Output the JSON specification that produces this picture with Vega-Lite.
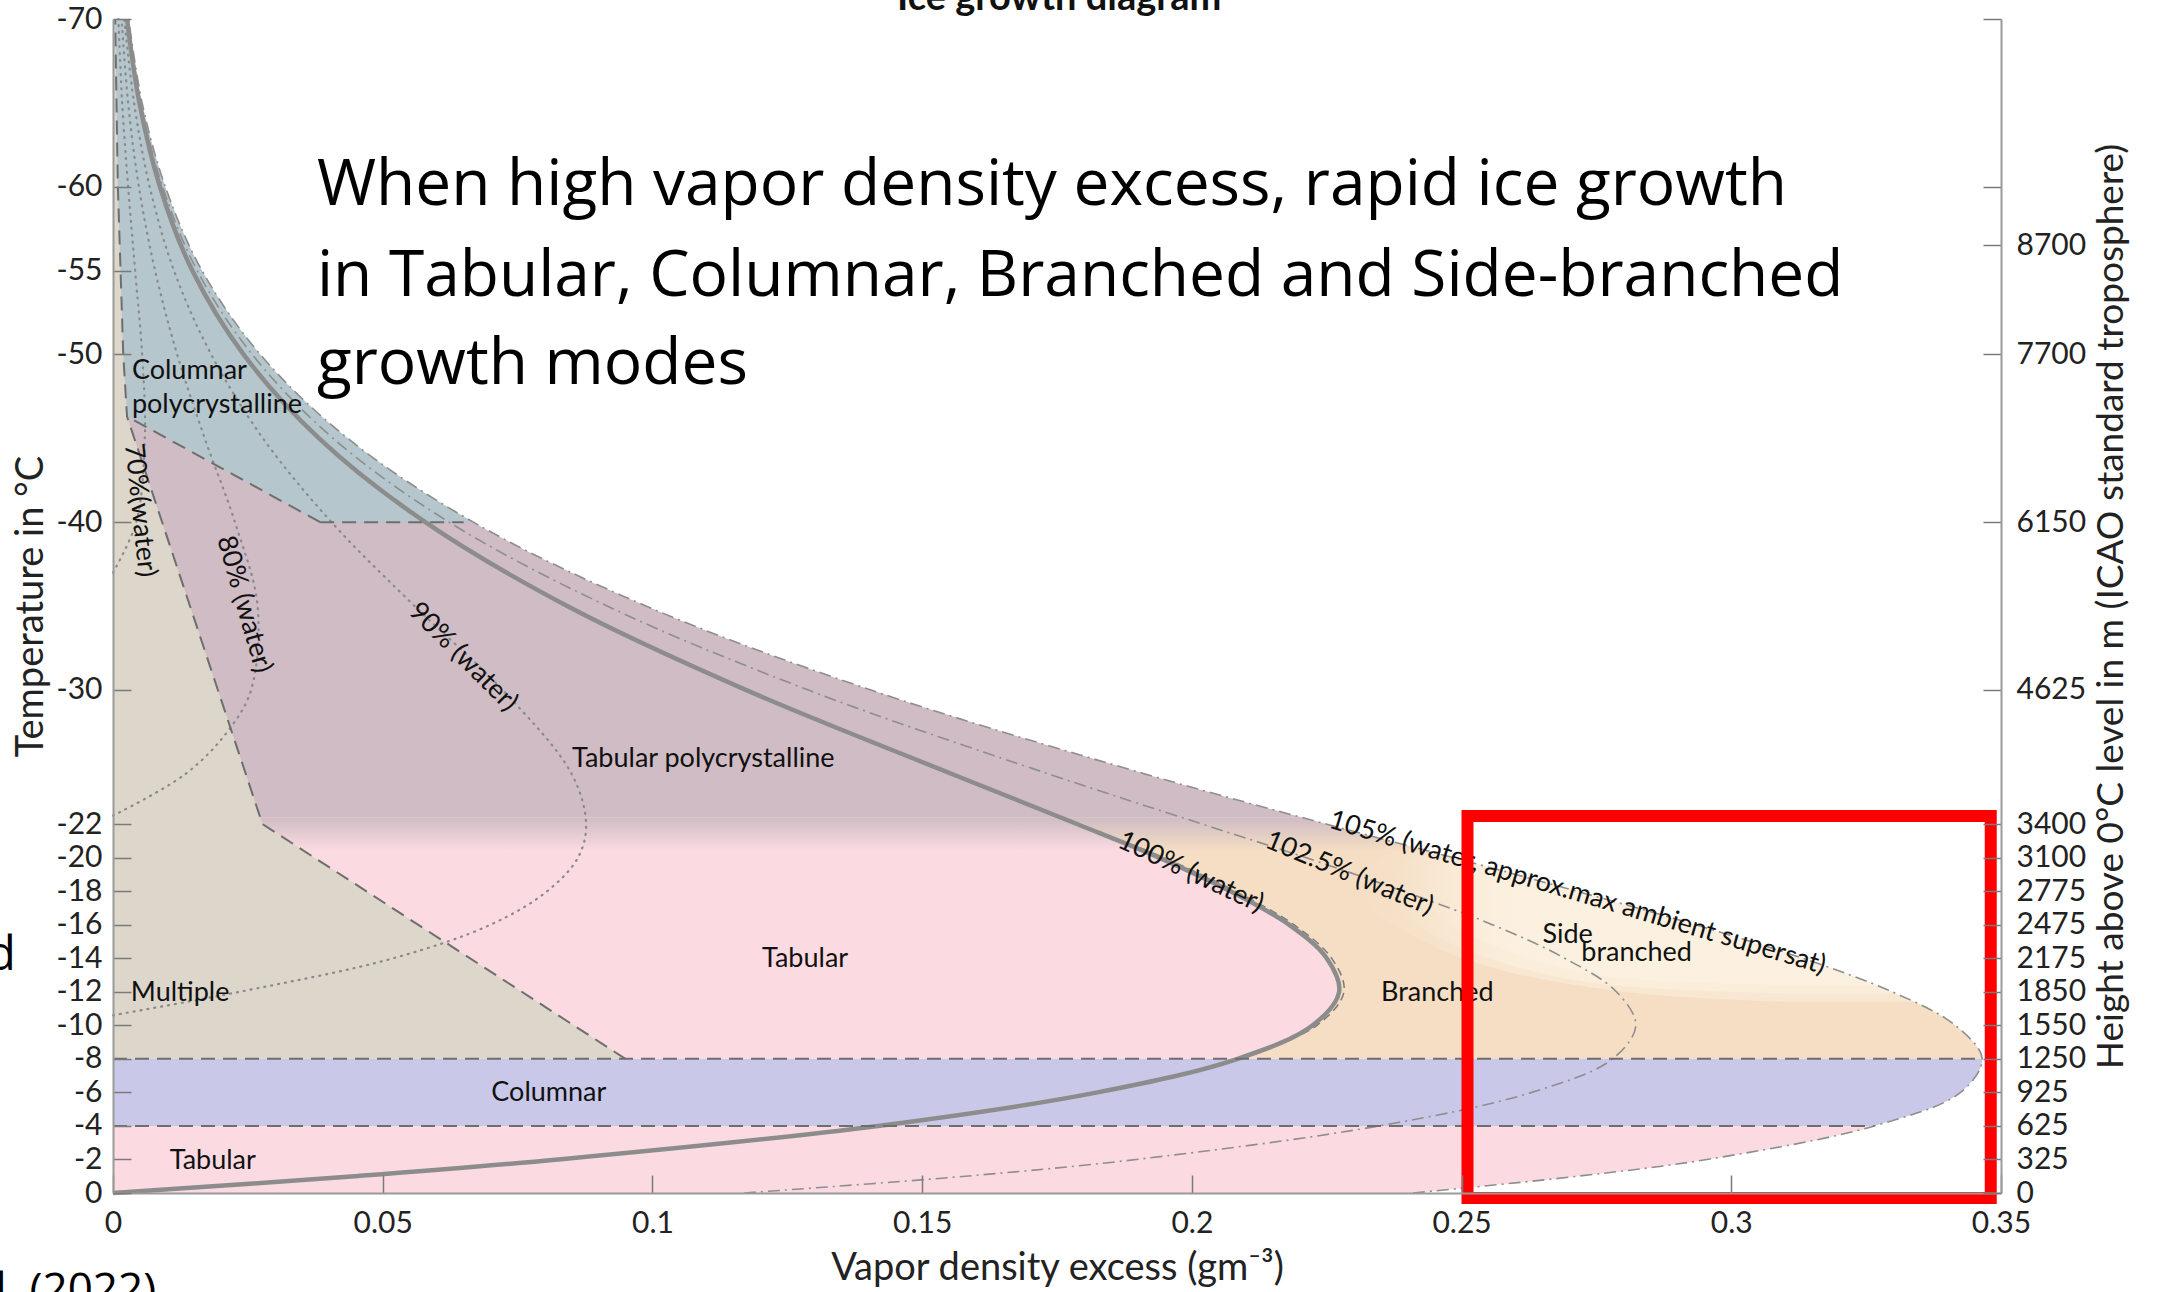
{
 "$schema": "https://vega.github.io/schema/vega-lite/v6.json",
 "width": 1888,
 "height": 1174,
 "autosize": {"type": "none"},
 "padding": {"left": 113, "top": 19, "right": 160, "bottom": 99},
 "background": "#ffffff",
 "config": {"view": {"stroke": null}, "font": "Lato"},
 "datasets": {
  "bands": [
   {"region": "Tabular polycrystalline", "x": 0, "x2": 0.35, "T": -70, "T2": -22.4},
   {"region": "Branched", "x": 0, "x2": 0.35, "T": -22.4, "T2": -8},
   {"region": "Columnar", "x": 0, "x2": 0.35, "T": -8, "T2": -4},
   {"region": "Tabular", "x": 0, "x2": 0.35, "T": -4, "T2": 0}
  ],
  "tab": [
   {"T": -8, "x": 0, "x2": 0.2085}, {"T": -10, "x": 0, "x2": 0.2224}, {"T": -12, "x": 0, "x2": 0.2273},
   {"T": -14, "x": 0, "x2": 0.2250}, {"T": -16, "x": 0, "x2": 0.2180}, {"T": -18, "x": 0, "x2": 0.2071},
   {"T": -20, "x": 0, "x2": 0.1939}, {"T": -22, "x": 0, "x2": 0.1787}, {"T": -22.4, "x": 0, "x2": 0.1756}
  ],
  "cream1": [
   {"T": -11.4, "x": 0.31, "x2": 0.35}, {"T": -12.0, "x": 0.28, "x2": 0.35}, {"T": -13.5, "x": 0.255, "x2": 0.35},
   {"T": -15.5, "x": 0.24, "x2": 0.35}, {"T": -17.5, "x": 0.232, "x2": 0.35}, {"T": -19.5, "x": 0.233, "x2": 0.35},
   {"T": -21, "x": 0.245, "x2": 0.35}
  ],
  "cream2": [
   {"T": -11.9, "x": 0.31, "x2": 0.35}, {"T": -12.5, "x": 0.275, "x2": 0.35}, {"T": -14, "x": 0.255, "x2": 0.35},
   {"T": -16, "x": 0.242, "x2": 0.35}, {"T": -18, "x": 0.237, "x2": 0.35}, {"T": -19.8, "x": 0.24, "x2": 0.35},
   {"T": -20.6, "x": 0.25, "x2": 0.35}
  ],
  "cream3": [
   {"T": -12.4, "x": 0.31, "x2": 0.35}, {"T": -13, "x": 0.275, "x2": 0.35}, {"T": -14.5, "x": 0.258, "x2": 0.35},
   {"T": -16.5, "x": 0.246, "x2": 0.35}, {"T": -18.5, "x": 0.242, "x2": 0.35}, {"T": -20, "x": 0.246, "x2": 0.35}
  ],
  "blue": [
   {"T": -70, "x": 0.0004, "x2": 0.35}, {"T": -60, "x": 0.0009, "x2": 0.35}, {"T": -50, "x": 0.0019, "x2": 0.35},
   {"T": -46.3, "x": 0.0026, "x2": 0.35}, {"T": -40, "x": 0.0384, "x2": 0.35}
  ],
  "tan": [
   {"T": -70, "x": 0, "x2": 0.0004}, {"T": -60, "x": 0, "x2": 0.0009}, {"T": -50, "x": 0, "x2": 0.0019},
   {"T": -46.3, "x": 0, "x2": 0.0026}, {"T": -22, "x": 0, "x2": 0.0277}, {"T": -8, "x": 0, "x2": 0.095}
  ],
  "mask": [
   {"T": 0, "x": 0.241, "x2": 0.35}, {"T": -1, "x": 0.2715, "x2": 0.35}, {"T": -2, "x": 0.2955, "x2": 0.35},
   {"T": -4, "x": 0.3265, "x2": 0.35}, {"T": -6, "x": 0.3425, "x2": 0.35}, {"T": -8, "x": 0.3465, "x2": 0.35},
   {"T": -10, "x": 0.3415, "x2": 0.35}, {"T": -12, "x": 0.3298, "x2": 0.35}, {"T": -14, "x": 0.3132, "x2": 0.35},
   {"T": -16, "x": 0.2933, "x2": 0.35}, {"T": -18, "x": 0.2713, "x2": 0.35}, {"T": -20, "x": 0.2484, "x2": 0.35},
   {"T": -22, "x": 0.2249, "x2": 0.35}, {"T": -25, "x": 0.1912, "x2": 0.35}, {"T": -30, "x": 0.1404, "x2": 0.35},
   {"T": -35, "x": 0.0988, "x2": 0.35}, {"T": -40, "x": 0.0668, "x2": 0.35}, {"T": -45, "x": 0.0435, "x2": 0.35},
   {"T": -50, "x": 0.0273, "x2": 0.35}, {"T": -55, "x": 0.0165, "x2": 0.35}, {"T": -60, "x": 0.0097, "x2": 0.35},
   {"T": -65, "x": 0.0054, "x2": 0.35}, {"T": -70, "x": 0.0029, "x2": 0.35}
  ],
  "c105": [
   {"T": 0, "x": 0.241}, {"T": -1, "x": 0.2715}, {"T": -2, "x": 0.2955}, {"T": -4, "x": 0.3265}, {"T": -6, "x": 0.3425},
   {"T": -8, "x": 0.3465}, {"T": -10, "x": 0.3415}, {"T": -12, "x": 0.3298}, {"T": -14, "x": 0.3132}, {"T": -16, "x": 0.2933},
   {"T": -18, "x": 0.2713}, {"T": -20, "x": 0.2484}, {"T": -22, "x": 0.2249}, {"T": -25, "x": 0.1912}, {"T": -30, "x": 0.1404},
   {"T": -35, "x": 0.0988}, {"T": -40, "x": 0.0668}, {"T": -45, "x": 0.0435}, {"T": -50, "x": 0.0273}, {"T": -55, "x": 0.0165},
   {"T": -60, "x": 0.0097}, {"T": -65, "x": 0.0054}, {"T": -70, "x": 0.0029}
  ],
  "c1025": [
   {"T": 0, "x": 0.117}, {"T": -1, "x": 0.158}, {"T": -2, "x": 0.1897}, {"T": -4, "x": 0.2347}, {"T": -6, "x": 0.2630},
   {"T": -8, "x": 0.2780}, {"T": -10, "x": 0.2823}, {"T": -12, "x": 0.2787}, {"T": -14, "x": 0.2691}, {"T": -16, "x": 0.2557},
   {"T": -18, "x": 0.2391}, {"T": -20, "x": 0.2211}, {"T": -22, "x": 0.2019}, {"T": -25, "x": 0.1733}, {"T": -30, "x": 0.1288},
   {"T": -35, "x": 0.0916}, {"T": -40, "x": 0.0623}, {"T": -45, "x": 0.0408}, {"T": -50, "x": 0.0258}, {"T": -55, "x": 0.0156},
   {"T": -60, "x": 0.0092}, {"T": -65, "x": 0.0051}, {"T": -70, "x": 0.0028}
  ],
  "c100": [
   {"T": 0, "x": 0}, {"T": -1, "x": 0.0448}, {"T": -2, "x": 0.0826}, {"T": -4, "x": 0.1418}, {"T": -6, "x": 0.1825},
   {"T": -8, "x": 0.2085}, {"T": -10, "x": 0.2224}, {"T": -12, "x": 0.2273}, {"T": -14, "x": 0.2250}, {"T": -16, "x": 0.2180},
   {"T": -18, "x": 0.2071}, {"T": -20, "x": 0.1939}, {"T": -22, "x": 0.1787}, {"T": -25, "x": 0.1554}, {"T": -30, "x": 0.1173},
   {"T": -35, "x": 0.0842}, {"T": -40, "x": 0.0579}, {"T": -45, "x": 0.0382}, {"T": -50, "x": 0.0242}, {"T": -55, "x": 0.0147},
   {"T": -60, "x": 0.0087}, {"T": -65, "x": 0.0049}, {"T": -70, "x": 0.0026}
  ],
  "c100d": [
   {"T": -8, "x": 0.2093}, {"T": -10, "x": 0.2232}, {"T": -12, "x": 0.2282}, {"T": -14, "x": 0.2259},
   {"T": -16, "x": 0.2189}, {"T": -18, "x": 0.2080}, {"T": -20, "x": 0.1948}, {"T": -21, "x": 0.1870}
  ],
  "c90": [
   {"T": -10.6, "x": 0}, {"T": -12, "x": 0.0235}, {"T": -14, "x": 0.052}, {"T": -16, "x": 0.070}, {"T": -18, "x": 0.0805},
   {"T": -20, "x": 0.0862}, {"T": -22, "x": 0.0877}, {"T": -25, "x": 0.0850}, {"T": -30, "x": 0.0722}, {"T": -35, "x": 0.0559},
   {"T": -40, "x": 0.0405}, {"T": -45, "x": 0.0278}, {"T": -50, "x": 0.0182}, {"T": -55, "x": 0.0113}, {"T": -60, "x": 0.0068},
   {"T": -65, "x": 0.0039}, {"T": -70, "x": 0.0021}
  ],
  "c80": [
   {"T": -22.5, "x": 0}, {"T": -25, "x": 0.0135}, {"T": -27.5, "x": 0.0212}, {"T": -30, "x": 0.0256}, {"T": -35, "x": 0.0268},
   {"T": -40, "x": 0.0226}, {"T": -45, "x": 0.0170}, {"T": -50, "x": 0.0119}, {"T": -55, "x": 0.0078}, {"T": -60, "x": 0.0048},
   {"T": -65, "x": 0.0028}, {"T": -70, "x": 0.0016}
  ],
  "c70": [
   {"T": -37, "x": 0}, {"T": -40, "x": 0.0043}, {"T": -45, "x": 0.0059}, {"T": -50, "x": 0.0054}, {"T": -55, "x": 0.0041},
   {"T": -60, "x": 0.0028}, {"T": -65, "x": 0.0017}, {"T": -70, "x": 0.0010}
  ],
  "bnd": [
   {"T": -8, "x": 0.095}, {"T": -22, "x": 0.0277}, {"T": -46.3, "x": 0.0026}, {"T": -50, "x": 0.0019},
   {"T": -60, "x": 0.0009}, {"T": -70, "x": 0.0004}
  ],
  "diag": [
   {"T": -40, "x": 0.0384}, {"T": -46.3, "x": 0.0026}
  ],
  "hrules": [
   {"T": -8, "x": 0, "x2": 0.3465}, {"T": -4, "x": 0, "x2": 0.3265}, {"T": -40, "x": 0.0384, "x2": 0.065}
  ]
 },
 "encoding": {
  "x": {
   "field": "x", "type": "quantitative",
   "scale": {"domain": [0, 0.35], "nice": false, "zero": false},
   "axis": {
    "values": [0, 0.05, 0.1, 0.15, 0.2, 0.25, 0.3, 0.35],
    "labelExpr": "'' + datum.value",
    "title": "Vapor density excess (gm⁻³)",
    "grid": false, "tickSize": -18, "tickColor": "#7a7a7a", "tickWidth": 1.5,
    "domainColor": "#9a9a9a", "domainWidth": 2,
    "labelFont": "Lato", "labelFontSize": 30, "labelColor": "#222222", "labelPadding": 33,
    "labelFlush": false, "labelOverlap": false, "labelBound": false,
    "titleFont": "Lato", "titleFontSize": 38, "titleFontWeight": "normal", "titleColor": "#222222", "titlePadding": 11,
    "zindex": 1
   }
  },
  "y": {
   "field": "T", "type": "quantitative",
   "scale": {"domain": [-70, 0], "reverse": true, "nice": false, "zero": false},
   "axis": null
  }
 },
 "layer": [
  {
   "data": {"name": "bands"},
   "mark": {"type": "rect"},
   "encoding": {
    "x2": {"field": "x2"}, "y2": {"field": "T2"},
    "color": {"field": "region", "type": "nominal", "legend": null,
     "scale": {"domain": ["Tabular polycrystalline", "Branched", "Columnar", "Tabular"], "range": ["#cfbcc4", "#f5dec4", "#c9c8e8", "#fbdbe1"]}}
   }
  },
  {
   "data": {"name": "tab"},
   "mark": {"type": "area", "orient": "horizontal", "interpolate": "catmull-rom", "color": "#fbdbe1"},
   "encoding": {"x2": {"field": "x2"}}
  },
  {
   "data": {"name": "cream1"},
   "mark": {"type": "area", "orient": "horizontal", "interpolate": "catmull-rom",
    "color": {"gradient": "linear", "x1": 0, "y1": 0, "x2": 1, "y2": 0,
     "stops": [{"offset": 0, "color": "rgba(252,243,227,0)"}, {"offset": 0.22, "color": "rgba(252,243,227,0.45)"}, {"offset": 1, "color": "rgba(252,243,227,0.45)"}]}},
   "encoding": {"x2": {"field": "x2"}}
  },
  {
   "data": {"name": "cream2"},
   "mark": {"type": "area", "orient": "horizontal", "interpolate": "catmull-rom",
    "color": {"gradient": "linear", "x1": 0, "y1": 0, "x2": 1, "y2": 0,
     "stops": [{"offset": 0, "color": "rgba(252,243,227,0)"}, {"offset": 0.2, "color": "rgba(252,243,227,0.5)"}, {"offset": 1, "color": "rgba(252,243,227,0.5)"}]}},
   "encoding": {"x2": {"field": "x2"}}
  },
  {
   "data": {"name": "cream3"},
   "mark": {"type": "area", "orient": "horizontal", "interpolate": "catmull-rom",
    "color": {"gradient": "linear", "x1": 0, "y1": 0, "x2": 1, "y2": 0,
     "stops": [{"offset": 0, "color": "rgba(252,243,227,0)"}, {"offset": 0.2, "color": "rgba(252,243,227,0.6)"}, {"offset": 1, "color": "rgba(252,243,227,0.6)"}]}},
   "encoding": {"x2": {"field": "x2"}}
  },
  {
   "data": {"values": [{"x": 0, "x2": 0.35, "T": -22.4, "T2": -20.4}]},
   "mark": {"type": "rect",
    "color": {"gradient": "linear", "x1": 0, "y1": 0, "x2": 0, "y2": 1,
     "stops": [{"offset": 0, "color": "rgba(207,188,196,1)"}, {"offset": 1, "color": "rgba(207,188,196,0)"}]}},
   "encoding": {"x2": {"field": "x2"}, "y2": {"field": "T2"}}
  },
  {
   "data": {"name": "blue"},
   "mark": {"type": "area", "orient": "horizontal", "interpolate": "linear", "color": "#b5c6cc"},
   "encoding": {"x2": {"field": "x2"}}
  },
  {
   "data": {"name": "tan"},
   "mark": {"type": "area", "orient": "horizontal", "interpolate": "linear", "color": "#ddd6cb"},
   "encoding": {"x2": {"field": "x2"}}
  },
  {
   "data": {"name": "mask"},
   "mark": {"type": "area", "orient": "horizontal", "interpolate": "catmull-rom", "color": "#ffffff"},
   "encoding": {
    "x2": {"field": "x2"},
    "y": {
     "field": "T", "type": "quantitative",
     "scale": {"domain": [-70, 0], "reverse": true, "nice": false, "zero": false},
     "axis": {
      "orient": "left",
      "values": [-70, -60, -55, -50, -40, -30, -22, -20, -18, -16, -14, -12, -10, -8, -6, -4, -2, 0],
      "labelExpr": "'' + datum.value",
      "title": "Temperature in °C",
      "grid": false, "tickSize": -18, "tickColor": "#7a7a7a", "tickWidth": 1.5,
      "domainColor": "#9a9a9a", "domainWidth": 2,
      "labelFont": "Lato", "labelFontSize": 30, "labelColor": "#222222", "labelPadding": 29,
      "labelOverlap": false, "labelBound": false, "labelFlush": false,
      "titleFont": "Lato", "titleFontSize": 38, "titleFontWeight": "normal", "titleColor": "#222222", "titlePadding": 6,
      "zindex": 1
     }
    }
   }
  },
  {
   "data": {"name": "c70"},
   "mark": {"type": "line", "interpolate": "catmull-rom", "color": "#8a8a8a", "strokeWidth": 2.2, "strokeDash": [1, 6], "strokeCap": "round"},
   "encoding": {"order": {"field": "T", "type": "quantitative", "sort": "descending"}}
  },
  {
   "data": {"name": "c80"},
   "mark": {"type": "line", "interpolate": "catmull-rom", "color": "#8a8a8a", "strokeWidth": 2.2, "strokeDash": [1, 6], "strokeCap": "round"},
   "encoding": {"order": {"field": "T", "type": "quantitative", "sort": "descending"}}
  },
  {
   "data": {"name": "c90"},
   "mark": {"type": "line", "interpolate": "catmull-rom", "color": "#8a8a8a", "strokeWidth": 2.2, "strokeDash": [1, 6], "strokeCap": "round"},
   "encoding": {"order": {"field": "T", "type": "quantitative", "sort": "descending"}}
  },
  {
   "data": {"name": "c1025"},
   "mark": {"type": "line", "interpolate": "catmull-rom", "color": "#8e8e8e", "strokeWidth": 1.6, "strokeDash": [12, 5, 2, 5]},
   "encoding": {"order": {"field": "T", "type": "quantitative", "sort": "descending"}}
  },
  {
   "data": {"name": "c105"},
   "mark": {"type": "line", "interpolate": "catmull-rom", "color": "#8e8e8e", "strokeWidth": 1.6, "strokeDash": [12, 5, 2, 5]},
   "encoding": {"order": {"field": "T", "type": "quantitative", "sort": "descending"}}
  },
  {
   "data": {"name": "c100d"},
   "mark": {"type": "line", "interpolate": "catmull-rom", "color": "#7a7a7a", "strokeWidth": 1.5, "strokeDash": [8, 5]},
   "encoding": {"order": {"field": "T", "type": "quantitative", "sort": "descending"}}
  },
  {
   "data": {"name": "c100"},
   "mark": {"type": "line", "interpolate": "catmull-rom", "color": "#8c8c8c", "strokeWidth": 4.5},
   "encoding": {
    "order": {"field": "T", "type": "quantitative", "sort": "descending"},
    "y": {
     "field": "T", "type": "quantitative",
     "scale": {"domain": [-70, 0], "reverse": true, "nice": false, "zero": false},
     "axis": {
      "orient": "right",
      "values": [-70, -60, -56.5, -50, -40, -30, -22, -20, -18, -16, -14, -12, -10, -8, -6, -4, -2, 0],
      "labelExpr": "datum.value < -57 ? '' : ['8700','7700','6150','4625','3400','3100','2775','2475','2175','1850','1550','1250','925','625','325','0'][indexof([-56.5,-50,-40,-30,-22,-20,-18,-16,-14,-12,-10,-8,-6,-4,-2,0], datum.value)]",
      "title": "Height above 0°C level in m (ICAO standard troposphere)",
      "titleAngle": 270, "titleBaseline": "top",
      "grid": false, "tickSize": -18, "tickColor": "#7a7a7a", "tickWidth": 1.5,
      "domainColor": "#9a9a9a", "domainWidth": 2,
      "labelFont": "Lato", "labelFontSize": 30, "labelColor": "#222222", "labelPadding": 33,
      "labelOverlap": false, "labelBound": false, "labelFlush": false,
      "titleFont": "Lato", "titleFontSize": 37, "titleFontWeight": "normal", "titleColor": "#222222", "titlePadding": 8,
      "zindex": 1
     }
    }
   }
  },
  {
   "data": {"name": "bnd"},
   "mark": {"type": "line", "interpolate": "linear", "color": "#6e6e6e", "strokeWidth": 2, "strokeDash": [14, 8]},
   "encoding": {"order": {"field": "T", "type": "quantitative", "sort": "descending"}}
  },
  {
   "data": {"name": "diag"},
   "mark": {"type": "line", "interpolate": "linear", "color": "#6e6e6e", "strokeWidth": 2, "strokeDash": [14, 8]},
   "encoding": {"order": {"field": "T", "type": "quantitative", "sort": "descending"}}
  },
  {
   "data": {"name": "hrules"},
   "mark": {"type": "rule", "color": "#6e6e6e", "strokeWidth": 2, "strokeDash": [14, 8]},
   "encoding": {"x2": {"field": "x2"}}
  },
  {
   "data": {"values": [
    {"label": "Columnar", "x": 0.0035, "T": -49.0},
    {"label": "polycrystalline", "x": 0.0035, "T": -47.0},
    {"label": "Multiple", "x": 0.0033, "T": -11.95},
    {"label": "Tabular polycrystalline", "x": 0.0851, "T": -25.9},
    {"label": "Side", "x": 0.265, "T": -15.4},
    {"label": "branched", "x": 0.2722, "T": -14.3}
   ]},
   "mark": {"type": "text", "font": "Lato", "fontSize": 27, "color": "#111111", "align": "left", "baseline": "middle"},
   "encoding": {"text": {"field": "label"}}
  },
  {
   "data": {"values": [
    {"label": "Tabular", "x": 0.1283, "T": -13.95},
    {"label": "Columnar", "x": 0.0808, "T": -5.96},
    {"label": "Tabular", "x": 0.0185, "T": -1.9},
    {"label": "Branched", "x": 0.2455, "T": -11.9}
   ]},
   "mark": {"type": "text", "font": "Lato", "fontSize": 27, "color": "#111111", "align": "center", "baseline": "middle"},
   "encoding": {"text": {"field": "label"}}
  },
  {
   "data": {"values": [{"label": "70%(water)", "x": 0.005, "T": -40.7}]},
   "mark": {"type": "text", "font": "Lato", "fontSize": 27, "color": "#111111", "align": "center", "baseline": "middle", "angle": 84},
   "encoding": {"text": {"field": "label"}}
  },
  {
   "data": {"values": [{"label": "80% (water)", "x": 0.0243, "T": -35.1}]},
   "mark": {"type": "text", "font": "Lato", "fontSize": 27, "color": "#111111", "align": "center", "baseline": "middle", "angle": 74},
   "encoding": {"text": {"field": "label"}}
  },
  {
   "data": {"values": [{"label": "90% (water)", "x": 0.0649, "T": -31.96}]},
   "mark": {"type": "text", "font": "Lato", "fontSize": 27, "color": "#111111", "align": "center", "baseline": "middle", "angle": 45},
   "encoding": {"text": {"field": "label"}}
  },
  {
   "data": {"values": [{"label": "100% (water)", "x": 0.1998, "T": -19.12}]},
   "mark": {"type": "text", "font": "Lato", "fontSize": 27, "color": "#111111", "align": "center", "baseline": "middle", "angle": 25},
   "encoding": {"text": {"field": "label"}}
  },
  {
   "data": {"values": [{"label": "102.5% (water)", "x": 0.2292, "T": -19.04}]},
   "mark": {"type": "text", "font": "Lato", "fontSize": 27, "color": "#111111", "align": "center", "baseline": "middle", "angle": 22.5},
   "encoding": {"text": {"field": "label"}}
  },
  {
   "data": {"values": [{"label": "105% (water, approx.max ambient supersat)", "x": 0.2715, "T": -17.89}]},
   "mark": {"type": "text", "font": "Lato", "fontSize": 27, "color": "#111111", "align": "center", "baseline": "middle", "angle": 16.5},
   "encoding": {"text": {"field": "label"}}
  },
  {
   "data": {"values": [
    {"label": "When high vapor density excess, rapid ice growth", "x": 0.0378, "T": -58.92},
    {"label": "in Tabular, Columnar, Branched and Side-branched", "x": 0.0378, "T": -53.49},
    {"label": "growth modes", "x": 0.0378, "T": -48.24}
   ]},
   "mark": {"type": "text", "font": "Open Sans", "fontSize": 64, "color": "#000000", "align": "left", "baseline": "alphabetic"},
   "encoding": {"text": {"field": "label"}}
  },
  {
   "data": {"values": [{"label": "Ice growth diagram", "x": 0.1754, "T": -70.54}]},
   "mark": {"type": "text", "font": "Lato", "fontSize": 38, "fontWeight": "bold", "color": "#111111", "align": "center", "baseline": "alphabetic"},
   "encoding": {"text": {"field": "label"}}
  },
  {
   "data": {"values": [{"label": "d", "x": -0.018, "T": -13.3}]},
   "mark": {"type": "text", "font": "Open Sans", "fontSize": 48, "color": "#000000", "align": "right", "baseline": "alphabetic"},
   "encoding": {"text": {"field": "label"}}
  },
  {
   "data": {"values": [{"label": "al. (2022)", "x": 0.008, "T": 6.62}]},
   "mark": {"type": "text", "font": "Open Sans", "fontSize": 44, "color": "#000000", "align": "right", "baseline": "alphabetic"},
   "encoding": {"text": {"field": "label"}}
  },
  {
   "data": {"values": [{"x": 0.2511, "x2": 0.3481, "T": -22.48, "T2": 0.3}]},
   "mark": {"type": "rect", "color": "#ff0000", "fillOpacity": 0, "stroke": "#ff0000", "strokeWidth": 12},
   "encoding": {"x2": {"field": "x2"}, "y2": {"field": "T2"}}
  }
 ],
 "resolve": {"axis": {"y": "independent"}}
}
